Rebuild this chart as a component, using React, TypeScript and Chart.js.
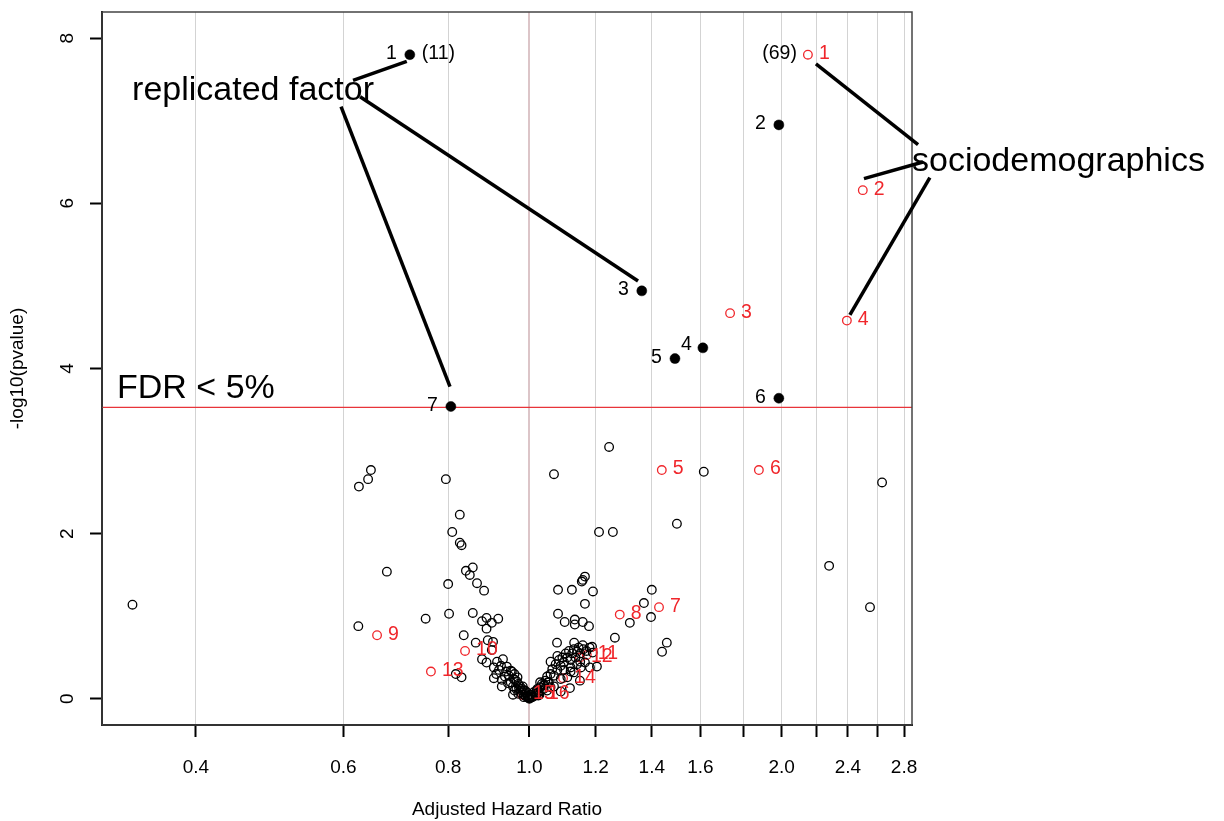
import React, { useEffect, useRef } from 'react';
import { Chart, registerables } from 'chart.js';

Chart.register(...registerables);

const FONT = '"Liberation Sans", Arial, Helvetica, sans-serif';

// Axis ticks
const xTickValues = [0.4, 0.6, 0.8, 1.0, 1.2, 1.4, 1.6, 1.8, 2.0, 2.2, 2.4, 2.6, 2.8];
const xTickLabels = ['0.4', '0.6', '0.8', '1.0', '1.2', '1.4', '1.6', '', '2.0', '', '2.4', '', '2.8'];
const yTickValues = [0, 2, 4, 6, 8];
const fdrThreshold = 3.53;

// Significant replicated factors (filled black)
const repLabels = ['1', '2', '3', '4', '5', '6', '7'];
const repHR = [0.72, 1.985, 1.362, 1.611, 1.492, 1.985, 0.806];
const repLogP = [7.8, 6.95, 4.94, 4.25, 4.12, 3.64, 3.54];

// Sociodemographic factors (red open)
const socLabels = ['1', '2', '3', '4', '5', '6', '7', '8', '9', '10', '11', '12', '13', '14', '15', '16'];
const socHR = [2.15, 2.5, 1.736, 2.393, 1.439, 1.879, 1.428, 1.282, 0.658, 0.838, 1.171, 1.149, 0.763, 1.097, 0.98, 1.021];
const socLogP = [7.8, 6.16, 4.67, 4.58, 2.77, 2.77, 1.11, 1.02, 0.77, 0.58, 0.53, 0.5, 0.33, 0.25, 0.05, 0.05];

// Other (non-significant) factors, open black circles
const otherHR = [
  0.336, 0.626, 0.642, 0.647, 0.795, 0.826, 0.809, 0.826, 0.83, 0.676,
  0.84, 0.856, 0.849, 0.866, 0.883, 0.8, 0.802, 0.752, 0.625, 0.856,
  0.835, 0.863, 0.878, 0.889, 0.889, 0.918, 0.902, 0.892, 0.905, 0.902,
  0.878, 0.889, 0.915, 0.93, 0.907, 0.907, 0.817, 0.83, 0.94, 0.95,
  0.927, 0.935, 0.927, 0.943, 0.956, 0.956, 0.961, 0.965, 0.97, 0.975,
  0.98, 0.985, 0.99, 0.995, 0.97, 0.96, 0.95, 0.945, 0.938, 0.925,
  0.92, 0.913, 0.953, 0.966, 0.96, 0.975, 0.985, 1.0, 1.002, 0.998,
  1.005, 1.01, 1.015, 1.02, 1.025, 1.03, 1.035, 1.04, 1.045, 1.05,
  1.055, 1.06, 1.065, 1.07, 1.075, 1.08, 1.085, 1.09, 1.095, 1.1,
  1.105, 1.11, 1.115, 1.12, 1.125, 1.13, 1.135, 1.14, 1.145, 1.15,
  1.16, 1.17, 1.18, 1.19, 1.06, 1.08, 1.1, 1.12, 1.14, 1.07,
  1.05, 1.07, 1.245, 1.615, 2.636, 1.211, 1.258, 1.5, 2.279, 2.55,
  1.158, 1.165, 1.155, 1.082, 1.124, 1.191, 1.165, 1.082, 1.102, 1.133,
  1.133, 1.158, 1.178, 1.265, 1.318, 1.37, 1.4, 1.397, 1.44, 1.459,
  1.079, 1.131, 1.158, 1.188, 1.204, 1.181, 1.152, 1.118, 1.149, 1.09,
  1.04, 1.03, 1.11, 1.13, 1.165, 1.09, 1.06, 1.025, 1.12, 1.15,
  0.985, 0.99, 0.995, 1.0, 1.003, 1.008, 1.012, 0.993, 0.978, 0.982,
  1.018, 1.022, 1.028, 0.972, 0.988, 0.968, 0.958, 1.033, 1.042, 1.052
];
const otherLogP = [
  1.14, 2.57, 2.66, 2.77, 2.66, 2.23, 2.02, 1.89, 1.86, 1.54,
  1.55, 1.59, 1.5, 1.4, 1.31, 1.39, 1.03, 0.97, 0.88, 1.04,
  0.77, 0.68, 0.94, 0.98, 0.85, 0.97, 0.92, 0.71, 0.69, 0.59,
  0.48, 0.44, 0.45, 0.48, 0.38, 0.25, 0.3, 0.26, 0.39, 0.34,
  0.23, 0.27, 0.15, 0.19, 0.15, 0.05, 0.23, 0.12, 0.18, 0.08,
  0.12, 0.05, 0.03, 0.02, 0.06, 0.1, 0.2, 0.28, 0.33, 0.4,
  0.35, 0.3, 0.33, 0.21, 0.3, 0.15, 0.1, 0.0, 0.01, 0.01,
  0.02, 0.03, 0.06, 0.1, 0.08, 0.14, 0.18, 0.12, 0.22, 0.27,
  0.2, 0.3, 0.36, 0.28, 0.42, 0.35, 0.47, 0.4, 0.5, 0.44,
  0.55, 0.5, 0.58, 0.47, 0.55, 0.6, 0.5, 0.57, 0.62, 0.55,
  0.6, 0.58, 0.62, 0.56, 0.45, 0.52, 0.35, 0.38, 0.42, 0.15,
  0.1, 2.72, 3.05, 2.75, 2.62, 2.02, 2.02, 2.12, 1.61, 1.11,
  1.44, 1.48, 1.42, 1.32, 1.32, 1.3, 1.15, 1.03, 0.93, 0.96,
  0.9, 0.93, 0.88, 0.74, 0.92, 1.16, 1.32, 0.99, 0.57, 0.68,
  0.68, 0.68, 0.65, 0.63, 0.39, 0.38, 0.38, 0.13, 0.22, 0.09,
  0.16, 0.2, 0.26, 0.32, 0.44, 0.24, 0.14, 0.04, 0.33, 0.45,
  0.02, 0.06, 0.04, 0.02, 0.05, 0.02, 0.08, 0.08, 0.1, 0.15,
  0.04, 0.12, 0.05, 0.13, 0.1, 0.26, 0.24, 0.1, 0.17, 0.2
];

// Annotations (data coordinates)
const annoTexts = [
  { text: 'replicated factor', x: 0.468, y: 7.25 },
  { text: 'sociodemographics', x: 4.28, y: 6.39 },
  { text: 'FDR < 5%', x: 0.4, y: 3.64 },
];
const connectorFrom = [
  [0.616, 7.49], [0.628, 7.29], [0.596, 7.17],
  [2.198, 7.69], [2.508, 6.3], [2.413, 4.65],
];
const connectorTo = [
  [0.714, 7.72], [1.348, 5.06], [0.804, 3.78],
  [2.91, 6.71], [2.95, 6.5], [3.006, 6.31],
];

const annotPlugin = {
  id: 'annot',
  beforeDatasetsDraw(chart: any) {
    const { ctx, chartArea, scales } = chart;
    const yy = scales.y.getPixelForValue(fdrThreshold);
    ctx.save();
    ctx.strokeStyle = '#e8343a';
    ctx.lineWidth = 1.2;
    ctx.beginPath();
    ctx.moveTo(chartArea.left, yy);
    ctx.lineTo(chartArea.right, yy);
    ctx.stroke();
    ctx.restore();
  },
  afterDatasetsDraw(chart: any) {
    const { ctx, chartArea, scales } = chart;
    const xs = scales.x, ys = scales.y;
    ctx.save();
    // box
    ctx.strokeStyle = '#444';
    ctx.lineWidth = 1.5;
    ctx.strokeRect(chartArea.left, chartArea.top, chartArea.right - chartArea.left, chartArea.bottom - chartArea.top);

    // point labels
    ctx.font = `19.5px ${FONT}`;
    ctx.textBaseline = 'middle';
    ctx.fillStyle = '#000';
    repLabels.forEach((lab, i) => {
      const px = xs.getPixelForValue(repHR[i]);
      const py = ys.getPixelForValue(repLogP[i]);
      ctx.textAlign = 'right';
      if (lab === '4') ctx.fillText(lab, px - 11, py - 3);
      else ctx.fillText(lab, px - 13, py - 1);
      if (i === 0) {
        ctx.textAlign = 'left';
        ctx.fillText('(11)', px + 12, py - 1);
      }
    });
    socLabels.forEach((lab, i) => {
      const px = xs.getPixelForValue(socHR[i]);
      const py = ys.getPixelForValue(socLogP[i]);
      ctx.fillStyle = '#f0262b';
      ctx.textAlign = 'left';
      ctx.fillText(lab, px + 11, py - 1);
      if (i === 0) {
        ctx.fillStyle = '#000';
        ctx.textAlign = 'right';
        ctx.fillText('(69)', px - 11, py - 1);
      }
    });

    // connectors
    ctx.strokeStyle = '#000';
    ctx.lineWidth = 3.5;
    ctx.lineCap = 'butt';
    connectorFrom.forEach((a, i) => {
      const b = connectorTo[i];
      ctx.beginPath();
      ctx.moveTo(xs.getPixelForValue(a[0]), ys.getPixelForValue(a[1]));
      ctx.lineTo(xs.getPixelForValue(b[0]), ys.getPixelForValue(b[1]));
      ctx.stroke();
    });

    // big texts
    ctx.fillStyle = '#000';
    ctx.font = `34px ${FONT}`;
    ctx.textAlign = 'center';
    ctx.textBaseline = 'alphabetic';
    annoTexts.forEach((t) => {
      ctx.fillText(t.text, xs.getPixelForValue(t.x), ys.getPixelForValue(t.y));
    });

    // y tick labels (rotated, R style)
    ctx.font = `19px ${FONT}`;
    ctx.textBaseline = 'middle';
    ctx.textAlign = 'center';
    yTickValues.forEach((v) => {
      const py = ys.getPixelForValue(v);
      ctx.save();
      ctx.translate(68, py);
      ctx.rotate(-Math.PI / 2);
      ctx.fillText(String(v), 0, 0);
      ctx.restore();
    });
    ctx.restore();
  },
};

export default function App() {
  const ref = useRef<HTMLCanvasElement>(null);
  useEffect(() => {
    document.body.style.margin = '0';
    const canvas = ref.current;
    if (!canvas) return;
    const toPts = (xa: number[], ya: number[]) => xa.map((x, i) => ({ x, y: ya[i] }));
    const chart = new Chart(canvas, {
      type: 'scatter',
      data: {
        datasets: [
          {
            label: 'other',
            data: toPts(otherHR, otherLogP),
            pointRadius: 4.3,
            pointBorderWidth: 1.3,
            borderColor: '#000',
            backgroundColor: 'rgba(0,0,0,0)',
          },
          {
            label: 'sociodemographics',
            data: toPts(socHR, socLogP),
            pointRadius: 4.3,
            pointBorderWidth: 1.3,
            borderColor: '#f0262b',
            backgroundColor: 'rgba(0,0,0,0)',
          },
          {
            label: 'replicated',
            data: toPts(repHR, repLogP),
            pointRadius: 5,
            pointBorderWidth: 0.5,
            borderColor: '#000',
            backgroundColor: '#000',
          },
        ],
      },
      options: {
        responsive: false,
        animation: false,
        layout: { padding: { left: 0, right: 312, top: 12, bottom: 0 } },
        plugins: { legend: { display: false }, tooltip: { enabled: false } },
        scales: {
          x: {
            type: 'logarithmic',
            bounds: 'data',
            min: 0.309,
            max: 2.862,
            afterBuildTicks: (s: any) => {
              s.ticks = xTickValues.map((v) => ({ value: v }));
            },
            afterFit: (s: any) => {
              s.height = 96;
            },
            ticks: {
              autoSkip: false,
              maxRotation: 0,
              minRotation: 0,
              padding: 19,
              color: '#000',
              font: { family: FONT, size: 19 },
              callback: (_v: any, i: number) => xTickLabels[i],
            },
            grid: {
              color: (c: any) => (c.tick && Math.abs(c.tick.value - 1) < 1e-9 ? '#dcc5c8' : '#d3d3d3'),
              lineWidth: (c: any) => (c.tick && Math.abs(c.tick.value - 1) < 1e-9 ? 2 : 1),
              drawOnChartArea: true,
              drawTicks: true,
              tickLength: 12,
              tickColor: '#000',
              tickWidth: 2,
            },
            border: { display: true, color: '#000', width: 2 },
            title: {
              display: true,
              text: 'Adjusted Hazard Ratio',
              color: '#000',
              font: { family: FONT, size: 19 },
              padding: { top: 0, bottom: 0 },
            },
          },
          y: {
            type: 'linear',
            min: -0.317,
            max: 8.317,
            afterBuildTicks: (s: any) => {
              s.ticks = yTickValues.map((v) => ({ value: v }));
            },
            afterFit: (s: any) => {
              s.width = 102;
            },
            ticks: { display: false },
            grid: {
              drawOnChartArea: false,
              drawTicks: true,
              tickLength: 12,
              tickColor: '#000',
              tickWidth: 2,
            },
            border: { display: true, color: '#000', width: 2 },
            title: {
              display: true,
              text: '-log10(pvalue)',
              color: '#000',
              font: { family: FONT, size: 19 },
              padding: { top: 6, bottom: 0 },
            },
          },
        },
      },
      plugins: [annotPlugin],
    } as any);
    return () => chart.destroy();
  }, []);
  return (
    <div style={{ width: 1224, height: 821, background: '#fff' }}>
      <canvas ref={ref} width={1224} height={821} style={{ width: 1224, height: 821, display: 'block' }} />
    </div>
  );
}
